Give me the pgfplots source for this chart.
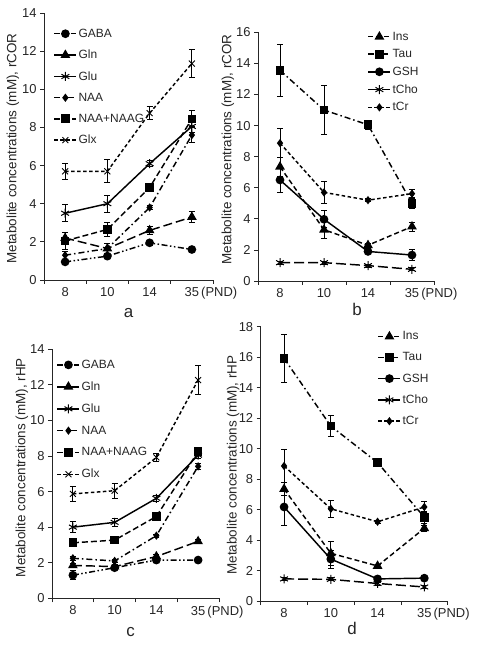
\documentclass[border=0pt]{standalone}
\usepackage{fontspec}
\setmainfont{Liberation Sans}
\usepackage{pgfplots}
\pgfplotsset{compat=1.18}
\definecolor{txt}{gray}{0.15}
\pgfplotsset{
  panel/.style={
    scale only axis,
    anchor=south west,
    axis x line*=bottom, axis y line*=left,
    axis line style={txt, line width=0.8bp, -},
    xmin=0.5, xmax=4.5,
    xtick={0.5,1.5,2.5,3.5,4.5},
    xticklabels={8,10,14,{35\rlap{\,(PND)}}},
    x tick label as interval,
    tick style={txt, line width=0.8bp},
    tick align=outside,
    major tick length=4bp,
    ymin=0, ytick distance=2,
    tick label style={font=\fontsize{13}{15}\selectfont, text=txt},
    /pgf/number format/assume math mode=true,
    label style={font=\fontsize{13.5}{15}\selectfont, text=txt},
    legend cell align=left,
    legend style={draw=none, fill=none, font=\fontsize{12}{14}\selectfont, text=txt, anchor=north west, inner sep=0pt,
      nodes={inner xsep=1.5bp, inner ysep=2bp}},
    legend image code/.code={\draw[mark repeat=2,mark phase=2] plot coordinates {(0bp,0bp) (11bp,0bp) (22bp,0bp)};},
    clip=false,
    every axis plot/.append style={line width=1.45bp, black},
    error bars/y dir=both, error bars/y explicit,
    error bars/error bar style={line width=0.8bp, solid},
    error bars/error mark options={rotate=90, mark size=3bp, line width=0.8bp, solid},
  },
  sGABA/.style={mark=*, mark size=3.6bp, mark options={solid}, dash pattern=on 6bp off 2.5bp on 1.5bp off 2.5bp on 1.5bp off 2.5bp},
  sGln/.style={mark=triangle*, mark size=4.2bp, mark options={solid}, dash pattern=on 9bp off 4bp},
  sGlu/.style={mark=asterisk, mark size=4.5bp, mark options={solid, line width=1bp}},
  sNAA/.style={mark=diamond*, mark size=3bp, mark options={solid}, dash pattern=on 6bp off 3bp on 1.5bp off 3bp},
  sNAAG/.style={mark=square*, mark size=3.6bp, mark options={solid}, dash pattern=on 6bp off 3bp},
  sGlx/.style={mark=x, mark size=4.2bp, mark options={solid, line width=0.9bp}, dash pattern=on 3.5bp off 2.5bp},
  sIns/.style={mark=triangle*, mark size=4.2bp, mark options={solid}, dash pattern=on 5bp off 3bp},
  sTau/.style={mark=square*, mark size=3.6bp, mark options={solid}, dash pattern=on 6bp off 3bp on 1.5bp off 3bp},
  sGSH/.style={mark=*, mark size=3.6bp, mark options={solid}},
  stCho/.style={mark=asterisk, mark size=4.5bp, mark options={solid, line width=1bp}, dash pattern=on 10bp off 4bp},
  stCr/.style={mark=diamond*, mark size=3bp, mark options={solid}, dash pattern=on 3.5bp off 2.5bp},
}
\begin{document}
\begin{tikzpicture}
\useasboundingbox (0bp,0bp) rectangle (479bp,646bp);
% ---------------- panel a
\begin{axis}[panel, at={(44bp,366bp)}, width=169bp, height=267bp, ymax=14,
  ylabel={Metabolite concentrations (mM), rCOR},
  ylabel style={at={(axis description cs:-0.1834,0.4925)}, anchor=center},
  xlabel={a},
  xlabel style={font=\fontsize{17}{19}\selectfont, at={(axis description cs:0.5,0)}, anchor=center, yshift=-33bp},
  legend style={at={(axis description cs:0.056,0.949)}, row sep=7.3bp}]
\addplot[sGABA] table[x index=0,y index=1,y error index=2,row sep=\\]{1 0.95 0.1\\ 2 1.25 0.1\\ 3 1.95 0.1\\ 4 1.6 0.1\\};
\addplot[sGln] table[x index=0,y index=1,y error index=2,row sep=\\]{1 2.2 0.3\\ 2 1.65 0.25\\ 3 2.6 0.2\\ 4 3.3 0.3\\};
\addplot[sGlu] table[x index=0,y index=1,y error index=2,row sep=\\]{1 3.5 0.45\\ 2 4.0 0.45\\ 3 6.1 0.15\\ 4 8.05 0.3\\};
\addplot[sNAA] table[x index=0,y index=1,y error index=2,row sep=\\]{1 1.3 0.2\\ 2 1.65 0.25\\ 3 3.8 0.1\\ 4 7.6 0.4\\};
\addplot[sNAAG] table[x index=0,y index=1,y error index=2,row sep=\\]{1 2.05 0.45\\ 2 2.65 0.35\\ 3 4.85 0.1\\ 4 8.45 0.42\\};
\addplot[sGlx] table[x index=0,y index=1,y error index=2,row sep=\\]{1 5.7 0.42\\ 2 5.7 0.6\\ 3 8.75 0.35\\ 4 11.35 0.75\\};
\legend{GABA,Gln,Glu,NAA,NAA+NAAG,Glx}
\end{axis}
% ---------------- panel b
\begin{axis}[panel, at={(258bp,365bp)}, width=176bp, height=248.7bp, ymax=16,
  ylabel={Metabolite concentrations (mM), rCOR},
  ylabel style={at={(axis description cs:-0.1705,0.529)}, anchor=center},
  xlabel={b},
  xlabel style={font=\fontsize{17}{19}\selectfont, at={(axis description cs:0.5,0)}, anchor=center, yshift=-28.5bp, xshift=11bp},
  legend style={at={(axis description cs:0.622,1.0107)}, row sep=3.8bp}]
\addplot[sIns] table[x index=0,y index=1,y error index=2,row sep=\\]{1 7.35 0.6\\ 2 3.3 0.55\\ 3 2.3 0.15\\ 4 3.5 0.3\\};
\addplot[sTau] table[x index=0,y index=1,y error index=2,row sep=\\]{1 13.55 1.65\\ 2 11.0 1.6\\ 3 10.05 0.3\\ 4 5.0 0.3\\};
\addplot[sGSH] table[x index=0,y index=1,y error index=2,row sep=\\]{1 6.5 0.8\\ 2 3.97 0.55\\ 3 1.9 0.15\\ 4 1.67 0.35\\};
\addplot[stCho] table[x index=0,y index=1,y error index=2,row sep=\\]{1 1.18 0.1\\ 2 1.18 0.1\\ 3 0.99 0.1\\ 4 0.75 0.1\\};
\addplot[stCr] table[x index=0,y index=1,y error index=2,row sep=\\]{1 8.87 0.95\\ 2 5.7 0.7\\ 3 5.2 0.1\\ 4 5.62 0.25\\};
\legend{Ins,Tau,GSH,tCho,tCr}
\end{axis}
% ---------------- panel c
\begin{axis}[panel, at={(52bp,47.7bp)}, width=167bp, height=249bp, ymax=14,
  ylabel={Metabolite concentrations (mM), rHP},
  ylabel style={at={(axis description cs:-0.1796,0.525)}, anchor=center},
  xlabel={c},
  xlabel style={font=\fontsize{17}{19}\selectfont, at={(axis description cs:0.5,0)}, anchor=center, yshift=-33.7bp, xshift=-5bp},
  legend style={at={(axis description cs:0.027,0.966)}, row sep=7.9bp}]
\addplot[sGABA] table[x index=0,y index=1,y error index=2,row sep=\\]{1 1.3 0.25\\ 2 1.72 0.1\\ 3 2.15 0.1\\ 4 2.15 0.1\\};
\addplot[sGln] table[x index=0,y index=1,y error index=2,row sep=\\]{1 1.85 0.1\\ 2 1.78 0.1\\ 3 2.35 0.1\\ 4 3.2 0.1\\};
\addplot[sGlu] table[x index=0,y index=1,y error index=2,row sep=\\]{1 4.0 0.3\\ 2 4.27 0.2\\ 3 5.62 0.15\\ 4 8.05 0.2\\};
\addplot[sNAA] table[x index=0,y index=1,y error index=2,row sep=\\]{1 2.25 0.1\\ 2 2.1 0.1\\ 3 3.52 0.1\\ 4 7.42 0.15\\};
\addplot[sNAAG] table[x index=0,y index=1,y error index=2,row sep=\\]{1 3.12 0.15\\ 2 3.27 0.1\\ 3 4.6 0.1\\ 4 8.25 0.15\\};
\addplot[sGlx] table[x index=0,y index=1,y error index=2,row sep=\\]{1 5.87 0.4\\ 2 6.05 0.42\\ 3 7.92 0.2\\ 4 12.27 0.8\\};
\legend{GABA,Gln,Glu,NAA,NAA+NAAG,Glx}
\end{axis}
% ---------------- panel d
\begin{axis}[panel, at={(260.7bp,45bp)}, width=187bp, height=274.3bp, ymax=18,
  ylabel={Metabolite concentrations (mM), rHP},
  ylabel style={at={(axis description cs:-0.148,0.496)}, anchor=center},
  xlabel={d},
  xlabel style={font=\fontsize{17}{19}\selectfont, at={(axis description cs:0.5,0)}, anchor=center, yshift=-27.5bp, xshift=-2bp},
  legend style={at={(axis description cs:0.6246,0.99)}, row sep=7.3bp}]
\addplot[sIns] table[x index=0,y index=1,y error index=2,row sep=\\]{1 7.35 0.45\\ 2 3.13 0.8\\ 3 2.3 0.1\\ 4 4.77 0.2\\};
\addplot[sTau] table[x index=0,y index=1,y error index=2,row sep=\\]{1 15.92 1.58\\ 2 11.48 0.68\\ 3 9.08 0.1\\ 4 5.5 0.4\\};
\addplot[sGSH] table[x index=0,y index=1,y error index=2,row sep=\\]{1 6.17 1.2\\ 2 2.75 0.6\\ 3 1.45 0.1\\ 4 1.5 0.1\\};
\addplot[stCho] table[x index=0,y index=1,y error index=2,row sep=\\]{1 1.45 0.1\\ 2 1.42 0.1\\ 3 1.15 0.1\\ 4 0.92 0.1\\};
\addplot[stCr] table[x index=0,y index=1,y error index=2,row sep=\\]{1 8.86 1.1\\ 2 6.05 0.55\\ 3 5.2 0.1\\ 4 6.17 0.35\\};
\legend{Ins,Tau,GSH,tCho,tCr}
\end{axis}
\end{tikzpicture}
\end{document}
